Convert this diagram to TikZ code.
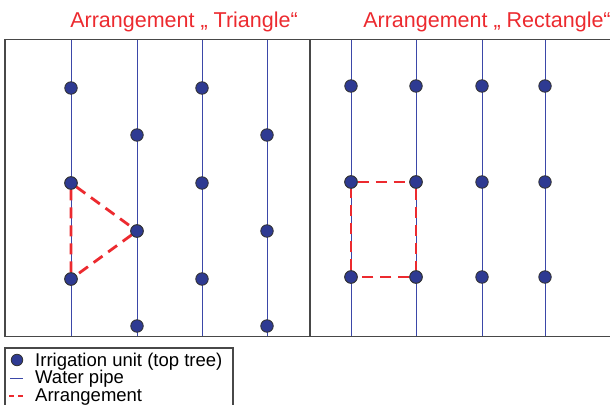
\documentclass[tikz,border=0pt]{standalone}
\usepackage{fontspec}
\setmainfont{Liberation Sans}
\definecolor{pipeblue}{HTML}{3B47A8}
\definecolor{dotblue}{HTML}{2E3A92}
\definecolor{arrred}{HTML}{EC2A2F}
\definecolor{framegray}{HTML}{484848}
\tikzset{
  frame/.style={draw=framegray, line width=1.5pt},
  pipe/.style={draw=pipeblue, line width=1pt},
  unit/.style={circle, draw=black!80, line width=0.8pt, fill=dotblue, minimum size=12.5pt, inner sep=0pt},
  arr/.style={draw=arrred, line width=2.8pt, dash pattern=on 11pt off 7pt},
  title/.style={text=arrred, font=\fontsize{21.5}{24}\selectfont, anchor=base},
  legtext/.style={font=\fontsize{18.5}{18.5}\selectfont, anchor=base west, inner sep=0pt}
}
\begin{document}
\begin{tikzpicture}[x=1pt,y=-1pt]
\useasboundingbox (0,0) rectangle (610,404);

% titles
\node[title] (t1) at (184,27.5) {Arrangement „ Triangle“};
\node[title] (t2) at (487,27.5) {Arrangement „ Rectangle“};

% water pipes
\foreach \x in {71,137,202,267,351,416,482,545}
  \draw[pipe] (\x,39.5) -- (\x,336.5);

% field frame
\draw[frame] (5,39.5) -- (615,39.5);
\draw[frame] (5,336.5) -- (615,336.5);
\draw[frame] (5,39.5) -- (5,336.5);
\draw[frame] (310,39.5) -- (310,336.5);

% triangle layout units
\foreach \x/\c in {71/a,202/c}{
  \node[unit] (\c1) at (\x,88) {};
  \node[unit] (\c2) at (\x,183) {};
  \node[unit] (\c3) at (\x,279) {};
}
\foreach \x/\c in {137/b,267/d}{
  \node[unit] (\c1) at (\x,135) {};
  \node[unit] (\c2) at (\x,231) {};
  \node[unit] (\c3) at (\x,326) {};
}
% rectangle layout units
\foreach \x/\c in {351/e,416/f,482/g,545/h}{
  \node[unit] (\c1) at (\x,86) {};
  \node[unit] (\c2) at (\x,182) {};
  \node[unit] (\c3) at (\x,277) {};
}

% arrangement outlines
\draw[arr] (a2) -- (b2) -- (a3) -- (a2);
\draw[arr] (e2) -- (f2) -- (f3) -- (e3) -- (e2);
\foreach \n in {a2,a3,b2,e2,f2,e3,f3}
  \node[unit] at (\n) {};

% legend
\draw[frame, line width=1.3pt] (5,348) rectangle (233,412);
\node[unit, minimum size=11.5pt] (l1) at (17,360) {};
\node[legtext] (lt1) at (35,366) {Irrigation unit (top tree)};
\coordinate (p1) at (10,378);
\coordinate (p2) at (23,378);
\draw[pipe] (p1) -- (p2);
\node[legtext] (lt2) at (35,383.5) {Water pipe};
\coordinate (r1) at (9,396);
\coordinate (r2) at (25,396);
\draw[arr, line width=2pt, dash pattern=on 5pt off 4pt] (r1) -- (r2);
\node[legtext] (lt3) at (35,401) {Arrangement};
\end{tikzpicture}
\end{document}
